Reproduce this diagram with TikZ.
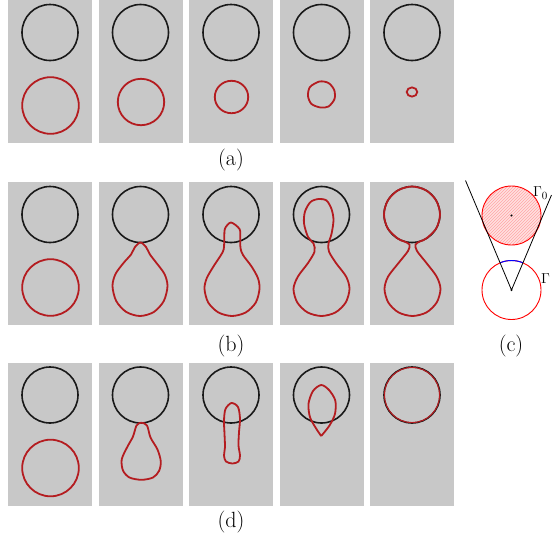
\documentclass[tikz,border=0pt]{standalone}
\usetikzlibrary{patterns}

\definecolor{panelgray}{RGB}{200,200,200}
\definecolor{dropred}{RGB}{180,28,32}
\tikzset{
  panel/.style = {fill = panelgray},
  target/.style = {line width = 1.6pt, black!90},
  drop/.style = {line width = 1.8pt, dropred},
  caption/.style = {font = \fontsize{22}{26}\selectfont, inner sep = 0pt},
  gammalabel/.style = {font = \fontsize{15}{18}\selectfont, inner sep = 0pt},
}

\begin{document}
\begin{tikzpicture}[x = 1pt, y = -1pt]
\useasboundingbox (0, 0) rectangle (552, 547);

% grey panels with the fixed black circle
\foreach \row in {0, 182, 362.5} {
  \foreach \col in {0, ..., 4} {
    \fill [panel] (8 + 90.5 * \col, \row) rectangle ++(84, 143);
    \draw [target] (50 + 90.5 * \col, \row + 32.5) circle [radius = 28];
  }
}

% (a) the drop shrinks
\draw [drop] (50.5, 105.5) circle [radius = 28.3];
\draw [drop] (141, 102) circle [radius = 23.2];
\draw [drop] (231.5, 97) circle [x radius = 16.7, y radius = 16.2];
\begin{scope}[shift = {(279.5, 0)}]
  \draw [drop] plot [smooth cycle] coordinates {(40, 81.5) (49, 83) (54.7, 90) (55, 99) (49, 106.5) (41, 107.5) (32, 104) (28.5, 96) (30.5, 87)};
\end{scope}
\draw [drop] (412, 92) circle [x radius = 5.3, y radius = 4.6];

% (b) the drop climbs into the circle
\draw [drop] (50.5, 287.5) circle [radius = 28.3];
\begin{scope}[shift = {(98.5, 182)}]
  \draw [drop] plot [smooth cycle] coordinates {(42, 60.5) (47.5, 65) (51.5, 72.5) (58, 81) (66, 92) (69, 104) (65.3, 119) (55.3, 130) (41.5, 134) (27.8, 130) (17.7, 119) (14, 104) (17, 92) (25, 81) (32.5, 72.5) (36.5, 65)};
\end{scope}
\begin{scope}[shift = {(189, 182)}]
  \draw [drop] plot [smooth cycle] coordinates {(42, 40.5) (50.5, 47) (51.3, 56) (51.5, 66) (54, 73) (62.7, 84.7) (69, 96.3) (70.5, 107) (66.8, 120.5) (56.8, 130.4) (43, 134) (29.3, 130.4) (19.2, 120.5) (15.5, 107) (17.7, 96.3) (24.3, 84.7) (33.5, 70.5) (35, 64.7) (35.3, 56) (36, 46.5)};
\end{scope}
\begin{scope}[shift = {(279.5, 182)}]
  \draw [drop] plot [smooth cycle] coordinates {(39, 17) (47, 18.5) (52, 27) (54, 38) (52, 52) (49, 61.5) (49.5, 69.7) (56.7, 81.3) (66.7, 94.7) (70, 107) (66.2, 120.5) (56, 130.4) (42, 134) (28, 130.4) (17.8, 120.5) (14, 107) (18.3, 94.7) (28.3, 81.3) (35, 69.7) (34, 61.5) (28.5, 55) (24.5, 41.3) (25.5, 29.5) (31, 20)};
\end{scope}
\begin{scope}[shift = {(370, 182)}]
  \draw [drop] plot [smooth cycle] coordinates {(39.5, 62.5) (33.8, 59.3) (28, 56.7) (17.8, 46.5) (14, 32.5) (17.8, 18.5) (28, 8.3) (42, 4.5) (56, 8.3) (66.2, 18.5) (70, 32.5) (66.2, 46.5) (56, 56.7) (50.2, 59.3) (45.5, 62.5) (47, 69) (56.7, 81.3) (66.7, 94.7) (70.5, 107) (66.7, 120.5) (56.5, 130.4) (42.5, 134) (28.5, 130.4) (18.3, 120.5) (14.5, 107) (18, 94.7) (28.3, 81.3) (38, 69)};
\end{scope}

% (d) the drop moves up into the circle
\draw [drop] (50.5, 468) circle [radius = 28.3];
\begin{scope}[shift = {(98.5, 362.5)}]
  \draw [drop] plot [smooth cycle] coordinates {(42.7, 60.2) (48.5, 63) (52, 75) (59, 87) (62.3, 99) (60.5, 108.5) (54.5, 115) (43, 117.3) (31, 115) (24.5, 108) (23.2, 97) (28.5, 85) (34.5, 74) (38, 63)};
\end{scope}
\begin{scope}[shift = {(189, 362.5)}]
  \draw [drop] plot [smooth cycle] coordinates {(42.5, 40.5) (49, 44.5) (51, 56.3) (50, 69.7) (49.5, 83) (51, 93) (49.5, 99) (43.5, 101) (37, 99) (35, 93) (36, 84.7) (35.5, 71.3) (35, 58) (36.5, 46.5)};
\end{scope}
\begin{scope}[shift = {(279.5, 362.5)}]
  \draw [drop] plot [smooth] coordinates {(41.7, 73.5) (36.5, 65.8) (30.5, 54.7) (29, 41.3) (33.5, 28.5) (41.7, 22.5) (49.5, 27.5) (55.8, 38) (55.5, 51.3) (50, 63) (41.7, 73.5)};
\end{scope}
\draw [drop, line width = 1.1pt] (412, 395) circle [radius = 27.6];

% (c) the cone
\coordinate (top) at (511.5, 215.5);
\coordinate (apex) at (511.5, 290);
\coordinate (leftend) at (465.5, 180.5);
\coordinate (rightend) at (551.5, 195);
\fill [red!12] (top) circle [radius = 29.5];
\fill [pattern = north east lines, pattern color = red!35] (top) circle [radius = 29.5];
\draw [red, line width = 0.9pt] (top) circle [radius = 29.5];
\draw [red, line width = 0.9pt] (apex) circle [radius = 29.5];
\begin{scope}
  \clip (apex) -- (leftend) -- (rightend) -- cycle;
  \draw [blue, line width = 1pt] (apex) circle [radius = 29.5];
\end{scope}
\draw [line width = 0.8pt] (leftend) -- (apex) -- (rightend);
\fill (top) circle [radius = 1.1];
\fill (apex) circle [radius = 1.1];
\node [gammalabel] (gammazero) at (540.5, 193) {$\Gamma_0$};
\node [gammalabel] (gamma) at (545.5, 279) {$\Gamma$};

% captions
\node [caption] (capa) at (231, 160) {(a)};
\node [caption] (capb) at (231, 346) {(b)};
\node [caption] (capc) at (511, 346) {(c)};
\node [caption] (capd) at (231, 522) {(d)};
\end{tikzpicture}
\end{document}
